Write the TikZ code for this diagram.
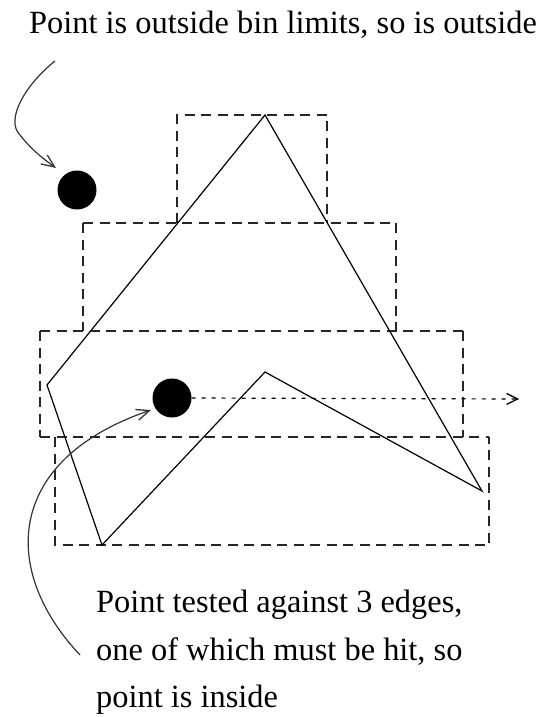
\documentclass[tikz,border=0pt]{standalone}
\usepackage{fontspec}
\setmainfont{Liberation Serif}
\usetikzlibrary{arrows.meta}
\begin{document}
\begin{tikzpicture}[x=1pt,y=-1pt,
  binbox/.style={draw=black!85, line width=1.4pt, dash pattern=on 10pt off 6.5pt},
  poly/.style={draw=black, line width=1.2pt, line join=miter},
  dot/.style={circle, fill=black, inner sep=0pt, minimum size=39pt},
  note/.style={anchor=base west, inner sep=0pt, font=\fontsize{32.4}{38}\selectfont},
  curvearrow/.style={draw=black!80, line width=1.2pt, -{Straight Barb[length=13pt,width=11pt,line width=1.3pt]}},
  rayarrow/.style={draw=black, line width=1.2pt, dash pattern=on 4pt off 6pt, -{Straight Barb[length=11pt,width=11pt,line width=1.3pt]}}
]
\useasboundingbox (0,0) rectangle (541,717);
\fill[white] (0,0) rectangle (541,717);
% bin rectangles (shared edges drawn once)
\draw[binbox] (177,223) -- (177,115) -- (327,115) -- (327,223);
\draw[binbox] (83,223) -- (396,223);
\draw[binbox] (83,223) -- (83,331);
\draw[binbox] (396,223) -- (396,331);
\draw[binbox] (40,331) -- (463,331);
\draw[binbox] (40,331) -- (40,437);
\draw[binbox] (463,331) -- (463,437);
\draw[binbox] (40,437) -- (489,437);
\draw[binbox] (55,437) -- (55,545) -- (489,545) -- (489,437);
% polygon
\coordinate (v1) at (265,115);
\coordinate (v2) at (482,491);
\coordinate (v3) at (265,372);
\coordinate (v4) at (102,545);
\coordinate (v5) at (47,385);
\draw[poly] (v1) -- (v2) -- (v3) -- (v4) -- (v5) -- cycle;
% points
\node[dot] (p1) at (77,190) {};
\node[dot] (p2) at (172,398) {};
\coordinate (rayend) at (519,399);
\draw[rayarrow] (p2.east) -- (rayend);
% labels
\node[note] (t1) at (29,34) {Point is outside bin limits, so is outside};
\node[note] (t2) at (96,612) {Point tested against 3 edges,};
\node[note] (t3) at (96,660) {one of which must be hit, so};
\node[note] (t4) at (96,707) {point is inside};
% curved arrows
\coordinate (c1s) at (55,61);
\coordinate (c1e) at (56,168);
\draw[curvearrow] (c1s) .. controls (25,85) and (5,120) .. (20,135) .. controls (30,148) and (42,158) .. (c1e);
\coordinate (c2s) at (80,655);
\coordinate (c2e) at (151,410);
\draw[curvearrow] (c2s) .. controls (0,570) and (5,460) .. (c2e);
\end{tikzpicture}
\end{document}
